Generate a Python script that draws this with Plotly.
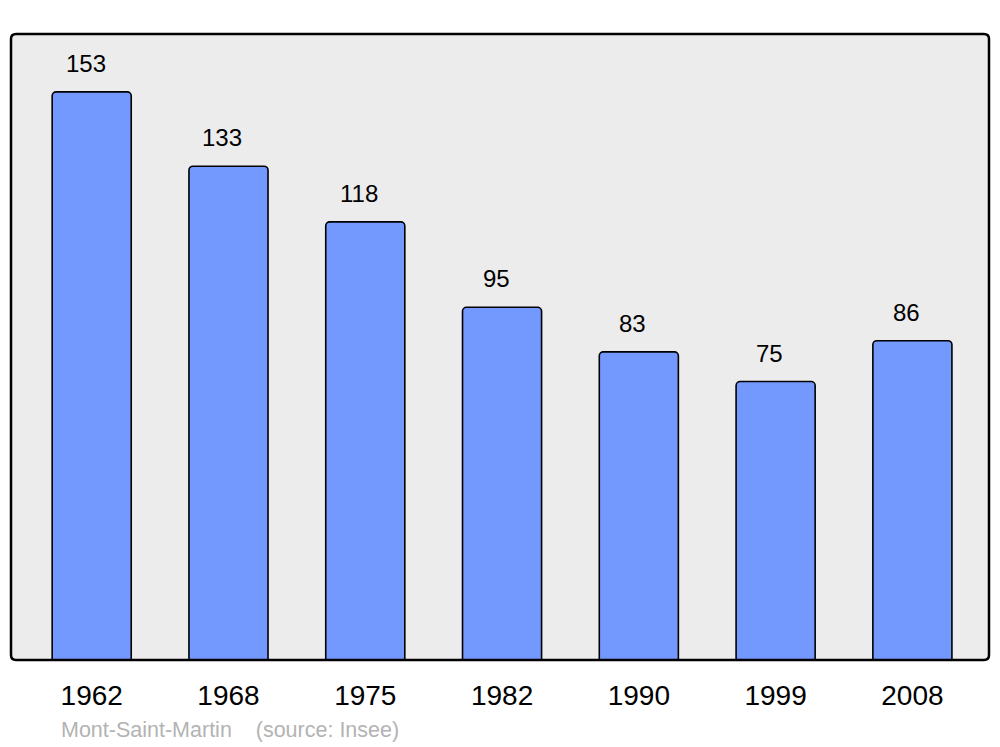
import plotly.graph_objects as go

years = ["1962", "1968", "1975", "1982", "1990", "1999", "2008"]
population = [153, 133, 118, 95, 83, 75, 86]
caption = "Mont-Saint-Martin &#160;&#160;&#160;(source: Insee)"

fig = go.Figure()
fig.add_trace(go.Bar(
    x=years, y=population,
    width=0.578,
    marker=dict(color="#7399ff", line=dict(color="#000000", width=1.6)),
    hoverinfo="skip",
))

for i, v in enumerate(population):
    fig.add_annotation(x=i, y=v, text=str(v), showarrow=False,
                       yanchor="bottom", yshift=13, xshift=-6,
                       font=dict(family="Liberation Sans, Arial", size=24, color="#000"))

fig.add_annotation(xref="paper", yref="paper", x=0.049, y=-0.112,
                   xanchor="left", yanchor="middle", showarrow=False,
                   text=caption,
                   font=dict(family="Liberation Sans, Arial", size=21.5, color="#b3b3b3"))

# rounded plot frame
rx, ry = 5 / 978, 5 / 626
path = (f"M {rx},0 L {1-rx},0 Q 1,0 1,{ry} L 1,{1-ry} Q 1,1 {1-rx},1 "
        f"L {rx},1 Q 0,1 0,{1-ry} L 0,{ry} Q 0,0 {rx},0 Z")
fig.add_shape(type="path", xref="paper", yref="paper", path=path,
              fillcolor="#ececec", line=dict(width=0), layer="below")
fig.add_shape(type="path", xref="paper", yref="paper", path=path,
              fillcolor="rgba(0,0,0,0)", line=dict(color="#000", width=2.5), layer="above")

fig.update_layout(
    width=1000, height=747,
    margin=dict(l=11, r=11, t=34, b=87),
    paper_bgcolor="#ffffff", plot_bgcolor="rgba(0,0,0,0)",
    showlegend=False,
    barcornerradius=4,
    xaxis=dict(type="category", range=[-0.59, 6.56], showgrid=False, zeroline=False,
               showline=False, ticks="", ticklabelstandoff=16,
               tickfont=dict(family="Liberation Sans, Arial", size=28, color="#000")),
    yaxis=dict(range=[0, 168.6], showgrid=False, zeroline=False, showline=False,
               showticklabels=False, ticks=""),
)

fig.write_html("out.html", config={"displayModeBar": False},
               post_script="document.body.style.margin='0';")
